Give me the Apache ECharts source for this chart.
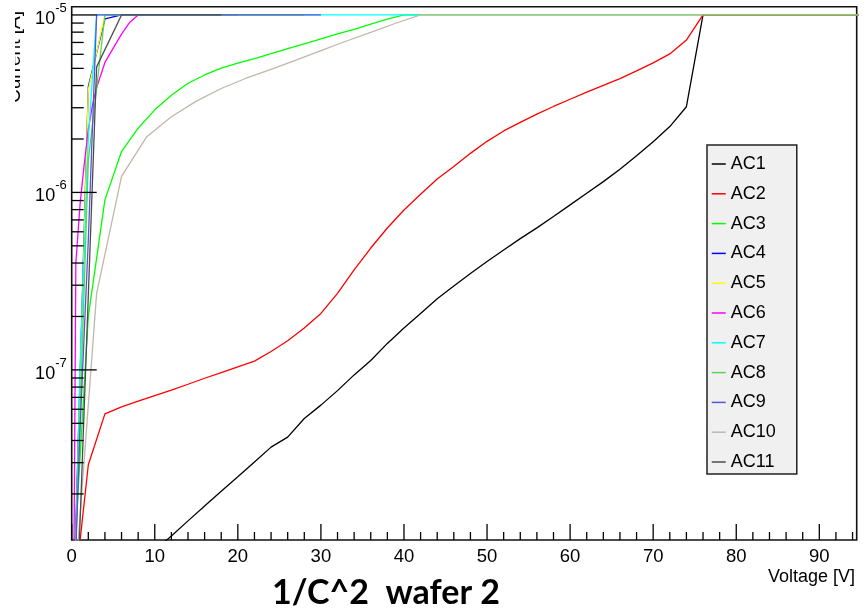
<!DOCTYPE html>
<html>
<head>
<meta charset="utf-8">
<script src="https://cdn.jsdelivr.net/npm/echarts@6/dist/echarts.min.js"></script>
<style>
  html, body { margin: 0; padding: 0; background: #ffffff; }
  #chart { width: 866px; height: 611px; }
</style>
</head>
<body>
<div id="chart"></div>
<script>
// Leakage current vs. bias voltage, one curve per AC structure: [voltage V, current A]
const AC1 = [[10,9.6e-9],[12,1.16e-8],[14,1.41e-8],[16,1.71e-8],[18,2.07e-8],[20,2.50e-8],[22,3.03e-8],[24,3.67e-8],[26,4.18e-8],[28,5.32e-8],[30,6.33e-8],[32,7.64e-8],[34,9.37e-8],[36,1.13e-7],[38,1.41e-7],[40,1.72e-7],[42,2.08e-7],[44,2.52e-7],[46,2.97e-7],[48,3.49e-7],[50,4.08e-7],[52,4.74e-7],[54,5.49e-7],[56,6.31e-7],[58,7.31e-7],[60,8.51e-7],[62,9.89e-7],[64,1.15e-6],[66,1.35e-6],[68,1.61e-6],[70,1.93e-6],[72,2.35e-6],[74,3.04e-6],[76,1e-5],[96,1e-5]];
const AC2 = [[0,4e-9],[2,2.92e-8],[4,5.65e-8],[6,6.19e-8],[8,6.66e-8],[10,7.17e-8],[12,7.70e-8],[14,8.30e-8],[16,8.97e-8],[18,9.65e-8],[20,1.04e-7],[22,1.12e-7],[24,1.27e-7],[26,1.46e-7],[28,1.72e-7],[30,2.08e-7],[32,2.70e-7],[34,3.66e-7],[36,4.86e-7],[38,6.3e-7],[40,7.96e-7],[42,9.77e-7],[44,1.19e-6],[46,1.40e-6],[48,1.66e-6],[50,1.94e-6],[52,2.22e-6],[54,2.48e-6],[56,2.76e-6],[58,3.05e-6],[60,3.35e-6],[62,3.67e-6],[64,4.01e-6],[66,4.38e-6],[68,4.84e-6],[70,5.37e-6],[72,6.03e-6],[74,7.22e-6],[76,1e-5],[96,1e-5]];
const AC3 = [[0,5e-9],[2,2.0e-7],[4,9.08e-7],[6,1.70e-6],[8,2.30e-6],[10,2.92e-6],[12,3.53e-6],[14,4.12e-6],[16,4.59e-6],[18,5.01e-6],[20,5.35e-6],[22,5.68e-6],[24,6.05e-6],[26,6.46e-6],[28,6.87e-6],[30,7.33e-6],[32,7.82e-6],[34,8.30e-6],[36,8.87e-6],[38,9.46e-6],[40,1e-5],[96,1e-5]];
const AC4 = [[0,2e-9],[2,3.94e-6],[4,9.5e-6],[6,1e-5],[20,1e-5]];
const AC5 = [[0,1.5e-9],[2,3.8e-6],[4,1e-5],[20,1e-5]];
const AC6 = [[0,1e-10],[0.5,4.0e-7],[1,8.5e-7],[1.5,1.43e-6],[2,2.25e-6],[2.5,3.1e-6],[3,3.9e-6],[4,5.4e-6],[5,6.5e-6],[6,7.8e-6],[7,9.1e-6],[8,1e-5],[20,1e-5]];
const AC7 = [[0,1e-9],[1,1e-7],[2,2e-6],[3,1e-5],[42,1e-5]];
const AC8 = [[0,2e-9],[2,1.5e-6],[4,1e-5],[28,1e-5]];
const AC9 = [[0,2e-9],[1,4.6e-8],[2,5.4e-7],[3,1e-5],[30,1e-5]];
const AC10 = [[0,3.5e-9],[3,2.7e-7],[6,1.23e-6],[9,2.05e-6],[12,2.67e-6],[15,3.27e-6],[18,3.85e-6],[21,4.40e-6],[24,4.94e-6],[27,5.57e-6],[30,6.29e-6],[33,7.11e-6],[36,7.98e-6],[39,8.98e-6],[42,1e-5],[96,1e-5]];
const AC11 = [[0,7e-10],[3,5.1e-6],[6,1e-5],[18,1e-5]];

const seriesNames = ['AC1','AC2','AC3','AC4','AC5','AC6','AC7','AC8','AC9','AC10','AC11'];
const seriesData = [AC1, AC2, AC3, AC4, AC5, AC6, AC7, AC8, AC9, AC10, AC11];
const seriesColors = ['#000000','#ff0000','#00ff00','#0000ff','#ffff00','#ff00ff','#00ffff','#59d454','#5954d9','#c0b6ac','#4c4c4c'];

// Axis ranges and tick positions
const X_MIN = 0, X_MAX = 94.5;
const Y_MIN = 1.1e-8, Y_MAX = 1.113e-5;
const xMajorTicks = [0,10,20,30,40,50,60,70,80,90];
const xMinorTicks = [2,4,6,8,12,14,16,18,22,24,26,28,32,34,36,38,42,44,46,48,52,54,56,58,62,64,66,68,72,74,76,78,82,84,86,88,92,94];
const yMajorTicks = [1e-7,1e-6,1e-5];
const yMinorTicks = [2e-8,3e-8,4e-8,5e-8,6e-8,7e-8,8e-8,9e-8,2e-7,3e-7,4e-7,5e-7,6e-7,7e-7,8e-7,9e-7,2e-6,3e-6,4e-6,5e-6,6e-6,7e-6,8e-6,9e-6];

const FONT = 'Liberation Sans, Arial, Helvetica, sans-serif';

// Inward tick marks drawn through the axis scales
function tickSeries(name, points, dx, dy) {
  return {
    name: name,
    type: 'custom',
    coordinateSystem: 'cartesian2d',
    silent: true,
    clip: false,
    z: 6,
    data: points,
    renderItem: function (params, api) {
      const p = api.coord([api.value(0), api.value(1)]);
      return {
        type: 'line',
        shape: { x1: p[0], y1: p[1], x2: p[0] + dx, y2: p[1] + dy },
        style: { stroke: '#000', lineWidth: 1.3 }
      };
    }
  };
}

const curveSeries = seriesNames.map(function (n, i) {
  return {
    name: n,
    type: 'line',
    data: seriesData[i],
    symbol: 'none',
    clip: true,
    z: 3,
    lineStyle: { color: seriesColors[i], width: 1.3 },
    itemStyle: { color: seriesColors[i] }
  };
});

const chart = echarts.init(document.getElementById('chart'), null, { renderer: 'canvas' });

chart.setOption({
  animation: false,
  backgroundColor: '#ffffff',
  grid: {
    left: 71.7, right: 9.3, top: 6.7, bottom: 71,
    show: true, borderColor: '#111', borderWidth: 1.6, backgroundColor: 'transparent'
  },
  xAxis: {
    type: 'value',
    min: X_MIN, max: X_MAX, interval: 10,
    axisLine: { show: false },
    axisTick: { show: false },
    splitLine: { show: false },
    axisLabel: {
      margin: 7,
      color: '#000',
      fontSize: 18.5,
      fontFamily: FONT,
      formatter: function (v) { return (Math.abs(v % 10) < 1e-9) ? String(v) : ''; }
    }
  },
  yAxis: {
    type: 'log',
    logBase: 10,
    min: Y_MIN, max: Y_MAX,
    axisLine: { show: false },
    axisTick: { show: false },
    splitLine: { show: false },
    axisLabel: {
      margin: 5,
      color: '#000',
      formatter: function (v) {
        const e = Math.log10(v);
        const r = Math.round(e);
        if (Math.abs(e - r) > 1e-6) return '';
        return '{b|10}{s|' + r + '}';
      },
      rich: {
        b: { fontSize: 18, fontFamily: FONT, color: '#000', verticalAlign: 'bottom', lineHeight: 26 },
        s: { fontSize: 13, fontFamily: FONT, color: '#000', verticalAlign: 'top', lineHeight: 26 }
      }
    }
  },
  legend: {
    data: seriesNames,
    orient: 'vertical',
    left: 707, top: 145,
    backgroundColor: '#f0f0f0',
    borderColor: '#222',
    borderWidth: 1.5,
    borderRadius: 0,
    padding: [10, 21, 3, 4],
    itemWidth: 14,
    itemHeight: 14,
    itemGap: 11.8,
    selectedMode: false,
    itemStyle: { opacity: 0 },
    lineStyle: { width: 1.5 },
    textStyle: { fontSize: 18, fontFamily: FONT, color: '#000' }
  },
  graphic: [
    {
      type: 'text', x: 24, y: 57, rotation: Math.PI / 2, z: 10,
      style: { text: 'Current [A]', font: '19px ' + FONT, fill: '#000', textAlign: 'center', textVerticalAlign: 'bottom' }
    },
    {
      type: 'rect', x: 0, y: 0, z: 11,
      shape: { width: 15, height: 115 },
      style: { fill: '#ffffff' }
    },
    {
      type: 'text', x: 855, y: 577, z: 10,
      style: { text: 'Voltage [V]', font: '18px ' + FONT, fill: '#000', textAlign: 'right', textVerticalAlign: 'middle' }
    },
    {
      type: 'text', x: 386, y: 593, z: 10,
      style: { text: '1/C^2  wafer 2', font: 'bold 34px Lato, "Open Sans", sans-serif', fill: '#000', textAlign: 'center', textVerticalAlign: 'middle' }
    }
  ],
  series: curveSeries.concat([
    tickSeries('xMajor', xMajorTicks.map(function (v) { return [v, Y_MIN]; }), 0, -16),
    tickSeries('xMinor', xMinorTicks.map(function (v) { return [v, Y_MIN]; }), 0, -8),
    tickSeries('yMajor', yMajorTicks.map(function (v) { return [X_MIN, v]; }), 25, 0),
    tickSeries('yMinor', yMinorTicks.map(function (v) { return [X_MIN, v]; }), 12, 0)
  ])
});
</script>
</body>
</html>
